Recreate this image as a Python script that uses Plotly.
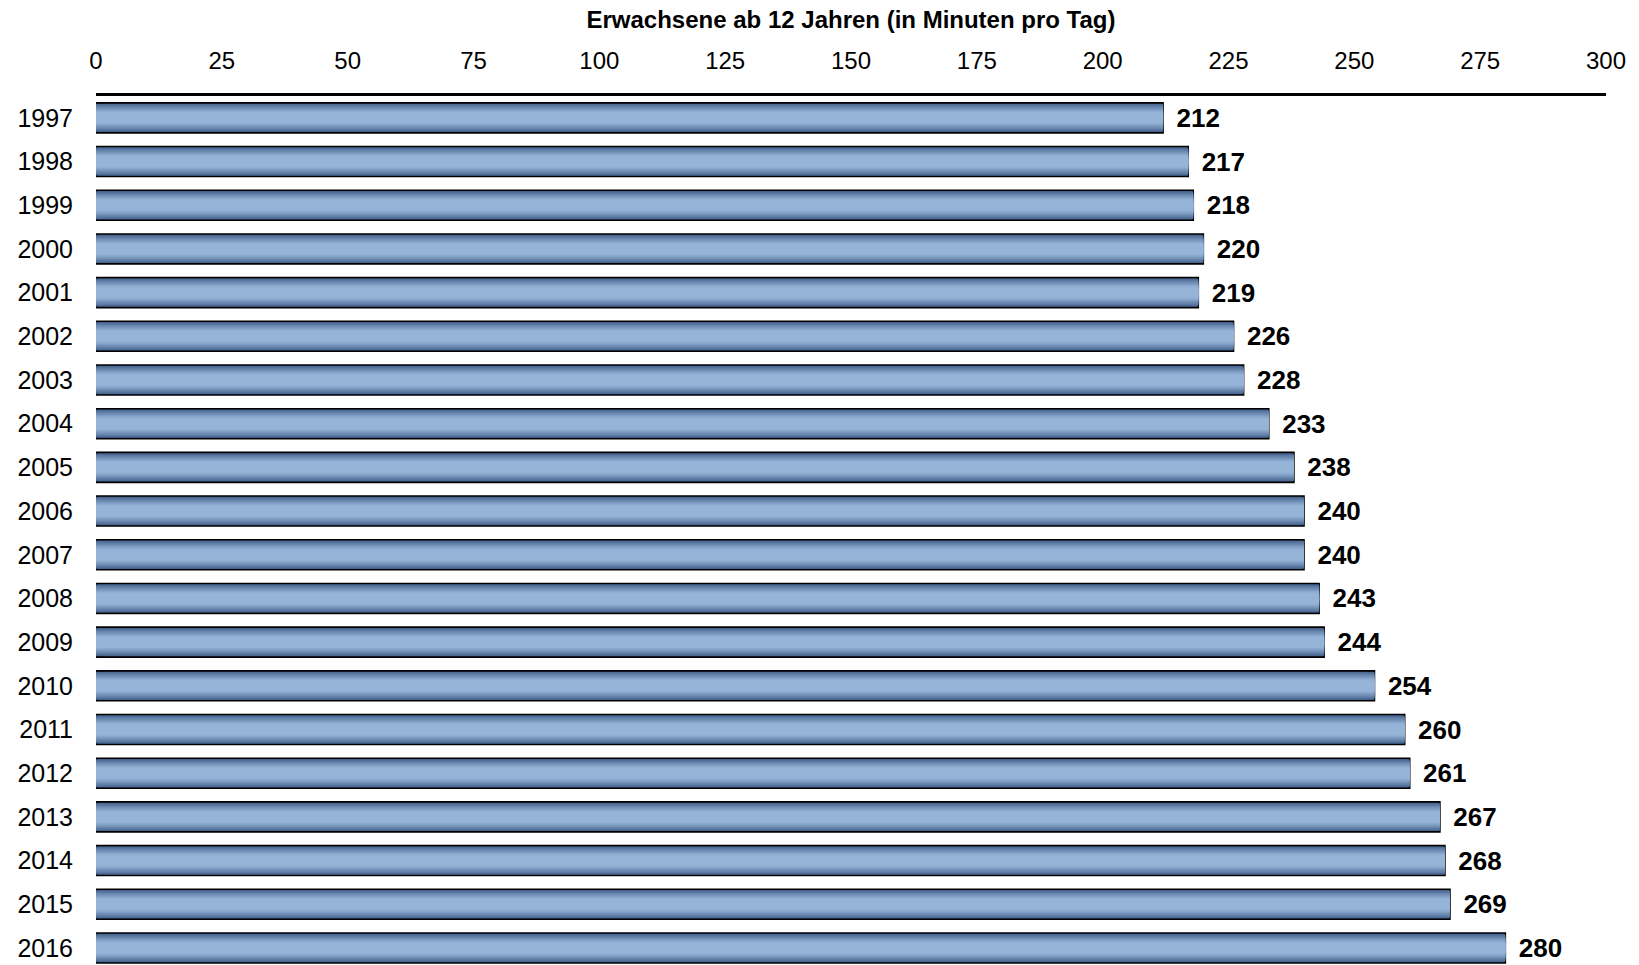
import plotly.graph_objects as go

years = [str(y) for y in range(1997, 2017)]
minutes = [212, 217, 218, 220, 219, 226, 228, 233, 238, 240, 240, 243, 244, 254, 260, 261, 267, 268, 269, 280]
x_ticks = [0, 25, 50, 75, 100, 125, 150, 175, 200, 225, 250, 275, 300]
title_text = "Erwachsene ab 12 Jahren (in Minuten pro Tag)"

BAR_W = 0.686
DARK = (52, 80, 125)
LIGHT = (150, 180, 216)
N_LAYERS = 12
FONT = "Liberation Sans, Arial, sans-serif"


def mix(f):
    # f: distance from bar centre (0) to edge (1)
    s = min(max((1 - f) / 0.65, 0.0), 1.0)
    s = s ** 0.8
    c = [round(DARK[i] + (LIGHT[i] - DARK[i]) * s) for i in range(3)]
    return "rgb({},{},{})".format(*c)


fig = go.Figure()
for k in range(N_LAYERS):
    frac = 1 - k / N_LAYERS
    f_mid = frac - 0.5 / N_LAYERS
    base = (k == 0)
    fig.add_trace(go.Bar(
        x=minutes, y=years, orientation="h",
        width=BAR_W * frac,
        marker=dict(color=mix(f_mid),
                    line=dict(color="black", width=1.6 if base else 0)),
        text=["\u2009\u2009" + str(v) for v in minutes] if base else None,
        textposition="outside" if base else "none",
        constraintext="none",
        cliponaxis=False,
        outsidetextfont=dict(family=FONT, size=26, color="black", weight="bold"),
        hoverinfo="x+y" if base else "skip",
        showlegend=False,
    ))

fig.update_layout(
    width=1639, height=965,
    margin=dict(l=96, r=33, t=96, b=0),
    paper_bgcolor="white", plot_bgcolor="white",
    barmode="overlay",
    font=dict(family=FONT, size=25, color="black"),
    title=dict(text="<b>" + title_text + "</b>",
               font=dict(family=FONT, size=24, color="black"),
               xref="paper", x=0.5, xanchor="center",
               yref="container", y=1 - 20 / 965, yanchor="middle"),
    xaxis=dict(side="top", range=[0, 300], tickvals=x_ticks,
               showgrid=False, zeroline=False, showline=True,
               linecolor="black", linewidth=3, ticks="",
               ticklabelstandoff=14, tickfont=dict(size=24)),
    yaxis=dict(type="category", categoryorder="array", categoryarray=years,
               range=[19.39, -0.5], showgrid=False, zeroline=False,
               showline=False, ticks="", ticklabelstandoff=22,
               tickfont=dict(size=25)),
)

fig.write_html("out.html")
